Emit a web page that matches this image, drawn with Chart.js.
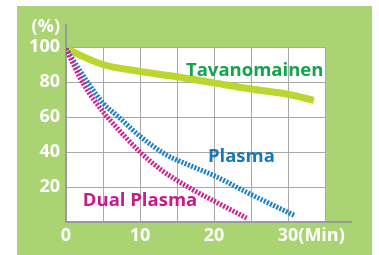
<!DOCTYPE html>
<html>
<head>
<meta charset="utf-8">
<style>
  html, body { margin: 0; padding: 0; background: #fff; }
  #chart { display: block; }
</style>
<script src="https://cdn.jsdelivr.net/npm/chart.js@4.4.1/dist/chart.umd.min.js"></script>
</head>
<body>
<canvas id="chart" width="379" height="255"></canvas>
<script>
// Data (menit, persen)
const tavanomainenX = [0, 5, 10, 15, 20, 25, 30, 33.5];
const tavanomainenY = [99, 90, 86, 83, 79.5, 76, 73, 69.5];

const plasmaX = [0, 2.9, 5, 7.1, 10, 13.5, 16.9, 20, 24.4, 30, 31];
const plasmaY = [99, 80, 68, 60, 49, 38.5, 32, 26.5, 17, 5.5, 3.5];

const dualX = [0, 2.2, 5, 6, 10, 12.8, 16.9, 20, 24.4];
const dualY = [99, 80, 63, 58, 40, 30, 19, 12, 2.3];

// Label sumbu
const xTickLabels = ["0", "10", "20", "30"];
const yTickLabels = ["20", "40", "60", "80", "100"];
const seriesNames = ["Tavanomainen", "Plasma", "Dual Plasma"];

const FONT = "'Open Sans', 'Noto Sans', sans-serif";

function toPoints(xs, ys) {
  return xs.map((x, i) => ({ x: x, y: ys[i] }));
}

// Plugin kecil buat background hijau, area putih, garis sumbu dan teks
const decorPlugin = {
  id: "decor",
  beforeDraw(chart) {
    const c = chart.ctx;
    const a = chart.chartArea;
    c.save();
    c.fillStyle = "#aad372";
    c.fillRect(17, 6, 355, 249);
    c.fillStyle = "#ffffff";
    c.fillRect(a.left, a.top, a.right - a.left, a.bottom - a.top);
    c.restore();
  },
  beforeDatasetsDraw(chart) {
    const c = chart.ctx;
    const a = chart.chartArea;
    c.save();
    c.strokeStyle = "#9a9a9a";
    c.lineWidth = 2;
    c.beginPath();
    c.moveTo(a.left, a.top - 23);
    c.lineTo(a.left, a.bottom);
    c.lineTo(a.right + 27, a.bottom);
    c.stroke();
    c.restore();
  },
  afterDraw(chart) {
    const c = chart.ctx;
    const xs = chart.scales.x;
    const ys = chart.scales.y;
    c.save();
    c.textBaseline = "middle";

    // (%) di atas label 100
    c.fillStyle = "#ffffff";
    c.font = "bold 18px " + FONT;
    c.textAlign = "right";
    c.fillText("(%)", ys.right - 6, ys.getPixelForValue(100) - 20);

    // (Min) setelah angka 30
    c.textAlign = "left";
    const w30 = c.measureText("30").width;
    c.fillText("(Min)", xs.getPixelForValue(30) + w30 / 2, xs.top + 14);

    // nama seri
    c.font = "bold 18.5px " + FONT;
    c.textAlign = "center";
    c.fillStyle = "#14a44d";
    c.fillText(seriesNames[0], xs.getPixelForValue(25.5), ys.getPixelForValue(86.2));
    c.fillStyle = "#1a78be";
    c.fillText(seriesNames[1], xs.getPixelForValue(23.7), ys.getPixelForValue(37.1));
    c.fillStyle = "#c61b8b";
    c.fillText(seriesNames[2], xs.getPixelForValue(10.0), ys.getPixelForValue(11.9));
    c.restore();
  },
};

new Chart(document.getElementById("chart"), {
  type: "line",
  data: {
    datasets: [
      {
        label: seriesNames[2],
        data: toPoints(dualX, dualY),
        borderColor: "#d0208f",
        borderWidth: 5,
        borderDash: [2, 1.5],
        borderCapStyle: "butt",
        cubicInterpolationMode: "monotone",
        pointRadius: 0,
      },
      {
        label: seriesNames[1],
        data: toPoints(plasmaX, plasmaY),
        borderColor: "#1a80c8",
        borderWidth: 5,
        borderDash: [2, 1.5],
        borderCapStyle: "butt",
        cubicInterpolationMode: "monotone",
        pointRadius: 0,
      },
      {
        label: seriesNames[0],
        data: toPoints(tavanomainenX, tavanomainenY),
        borderColor: "#bdd62f",
        borderWidth: 7,
        borderCapStyle: "butt",
        cubicInterpolationMode: "monotone",
        pointRadius: 0,
      },
    ],
  },
  options: {
    responsive: false,
    animation: false,
    devicePixelRatio: 1,
    layout: { padding: { left: 0, top: 47, right: 54, bottom: 0 } },
    plugins: {
      legend: { display: false },
      tooltip: { enabled: false },
    },
    scales: {
      x: {
        type: "linear",
        min: 0,
        max: 35,
        afterFit(s) { s.height = 33; },
        border: { display: false },
        grid: { color: "#a8a8a8", lineWidth: 1, drawTicks: false },
        ticks: {
          stepSize: 5,
          autoSkip: false,
          maxRotation: 0,
          padding: 3,
          color: "#ffffff",
          font: { family: FONT, size: 18, weight: "bold" },
          callback: function (value) {
            const idx = value / 10;
            return Number.isInteger(idx) ? xTickLabels[idx] || "" : "";
          },
        },
      },
      y: {
        min: 0,
        max: 100,
        afterFit(s) { s.width = 66; },
        border: { display: false },
        grid: { color: "#a8a8a8", lineWidth: 1, drawTicks: false },
        ticks: {
          stepSize: 20,
          padding: 6,
          color: "#ffffff",
          font: { family: FONT, size: 18, weight: "bold" },
          callback: function (value) {
            return value === 0 ? "" : yTickLabels[value / 20 - 1];
          },
        },
      },
    },
  },
  plugins: [decorPlugin],
});
</script>
</body>
</html>
